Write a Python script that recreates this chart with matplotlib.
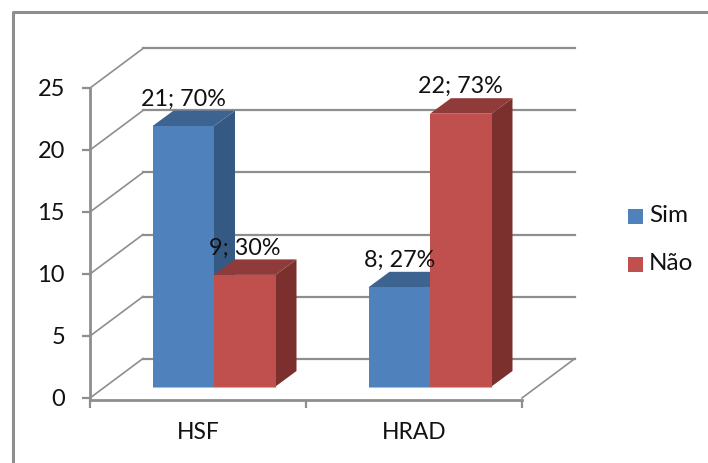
import matplotlib
matplotlib.use("Agg")
from matplotlib import pyplot as plt
from matplotlib.patches import Polygon, Rectangle
from matplotlib.lines import Line2D

categories = ["HSF", "HRAD"]
series_names = ["Sim", "Não"]
sim_values = [21, 8]
nao_values = [9, 22]
sim_labels = ["21; 70%", "8; 27%"]
nao_labels = ["9; 30%", "22; 73%"]
y_ticks = [0, 5, 10, 15, 20, 25]

W, H = 708, 463
GRID = "#8e8e8e"
BLUE = ("#4f81bd", "#3d6491", "#345a84")
RED = ("#c0504d", "#8f3b39", "#7c302e")

plt.rcParams["font.family"] = ["Lato", "DejaVu Sans"]

fig = plt.figure(figsize=(W / 100, H / 100), dpi=100, facecolor="white")

# front plane of the fake 3d box
left, right, top, bottom = 90, 522, 88, 398
ax = fig.add_axes([left / W, 1 - bottom / H, (right - left) / W, (bottom - top) / H])
ax.set_xlim(-0.5, 1.5)
ax.set_ylim(0, 25)
ax.patch.set_alpha(0)

px_x = (right - left) / 2.0
px_y = (bottom - top) / 25.0

# depth of the box and of the bars, in data units
wall_dx = 53 / px_x
wall_dy = 39.5 / px_y
bar_dx = 21 / px_x
bar_dy = 15.5 / px_y
shift_x = 16 / px_x
shift_y = 11.5 / px_y
bar_w = 61.5 / px_x

# back wall and floor lines
for t in y_ticks:
    ax.plot([-0.5 + wall_dx, 1.5 + wall_dx], [t + wall_dy, t + wall_dy],
            color=GRID, lw=1.6, clip_on=False, zorder=1)
    ax.plot([-0.5, -0.5 + wall_dx], [t, t + wall_dy],
            color=GRID, lw=1.2, clip_on=False, zorder=1)
ax.plot([1.5, 1.5 + wall_dx], [0, wall_dy], color=GRID, lw=1.2, clip_on=False, zorder=1)

for s in ["top", "right"]:
    ax.spines[s].set_visible(False)
for s in ["left", "bottom"]:
    ax.spines[s].set_color(GRID)
    ax.spines[s].set_linewidth(2)
ax.spines["bottom"].set_position(("outward", 1.5))

ax.set_yticks(y_ticks)
ax.set_xticks([-0.5, 0.5, 1.5])
ax.set_xticklabels([])
ax.tick_params(axis="y", length=6, width=1.6, color=GRID, labelsize=17, pad=12, labelcolor="#111111")
ax.tick_params(axis="x", length=6, width=1.6, color=GRID)


def draw_bar(x0, v, cols, label):
    x0 = x0 + shift_x
    x1 = x0 + bar_w
    y0 = shift_y
    y1 = v + shift_y
    front, up, side = cols
    ax.add_patch(Polygon([(x1, y0), (x1 + bar_dx, y0 + bar_dy), (x1 + bar_dx, y1 + bar_dy), (x1, y1)],
                         facecolor=side, edgecolor="none", clip_on=False, zorder=3))
    ax.add_patch(Polygon([(x0, y1), (x1, y1), (x1 + bar_dx, y1 + bar_dy), (x0 + bar_dx, y1 + bar_dy)],
                         facecolor=up, edgecolor="none", clip_on=False, zorder=3))
    ax.add_patch(Rectangle((x0, y0), bar_w, v, facecolor=front, edgecolor="none", clip_on=False, zorder=3))
    # pale strip along the foot of the bar
    ax.plot([x0, x1], [y0, y0], color=front, alpha=0.5, lw=1.5, clip_on=False, zorder=3,
            solid_capstyle="butt")
    ax.annotate(label, (x0 + bar_w / 2, y1), xytext=(0, 27), textcoords="offset pixels",
                ha="center", va="center", fontsize=16.8, color="#111111", zorder=6, annotation_clip=False)


for i, cat in enumerate(categories):
    draw_bar(i - bar_w, sim_values[i], BLUE, sim_labels[i])
    draw_bar(i, nao_values[i], RED, nao_labels[i])
    ax.text(i, -2.8, cat, ha="center", va="center", fontsize=16.4, color="#111111")

# legend squares and names
for name, cols, y in zip(series_names, [BLUE, RED], [216.5, 264.5]):
    fig.patches.append(Rectangle((628 / W, 1 - (y + 7.5) / H), 14.5 / W, 15 / H, transform=fig.transFigure,
                                 facecolor=cols[0], edgecolor="none"))
    fig.text(649 / W, 1 - (y - 1) / H, name, ha="left", va="center", fontsize=17.5, color="#111111")

# outer chart frame
fig.add_artist(Line2D([13 / W, 13 / W, 1], [0, 1 - 12 / H, 1 - 12 / H], color=GRID, lw=2.2))

fig.savefig("out.png", dpi=100)
plt.close(fig)
